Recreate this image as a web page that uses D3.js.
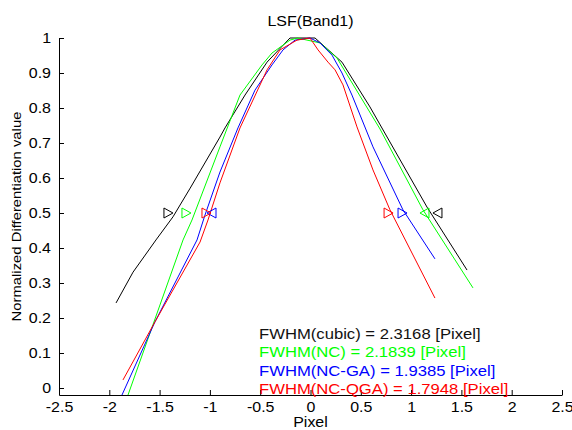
<!DOCTYPE html>
<html>
<head>
<meta charset="utf-8">
<script src="https://cdn.jsdelivr.net/npm/d3@7"></script>
<style>
  html, body { margin: 0; padding: 0; background: #fff; }
  svg { display: block; }
  text { font-family: "Liberation Sans", Arial, Helvetica, sans-serif; }
</style>
</head>
<body>
<div id="chart"></div>
<script>
// Line spread function profiles for Band 1, one per interpolation method
const cubicX = [-1.933, -1.764, -1.536, -1.367, -1.196, -0.900, -0.850, -0.651, -0.432, -0.204, 0.045, 0.313, 0.591, 1.158, 1.556];
const cubicY = [0.243, 0.331, 0.423, 0.489, 0.571, 0.717, 0.743, 0.837, 0.931, 1.000, 1.000, 0.931, 0.803, 0.517, 0.337];

const ncX = [-1.814, -1.267, -1.178, -0.900, -0.701, -0.482, -0.383, -0.204, -0.130, 0.094, 0.263, 0.691, 1.118, 1.615];
const ncY = [-0.020, 0.423, 0.480, 0.689, 0.837, 0.923, 0.957, 0.994, 1.000, 0.986, 0.943, 0.740, 0.509, 0.286];

const gaX = [-1.874, -1.546, -1.128, -1.049, -0.900, -0.721, -0.552, -0.383, -0.273, -0.154, -0.005, 0.094, 0.214, 0.313, 0.412, 0.621, 0.919, 1.237];
const gaY = [-0.020, 0.189, 0.423, 0.494, 0.617, 0.743, 0.851, 0.923, 0.966, 0.994, 1.000, 0.986, 0.951, 0.900, 0.837, 0.689, 0.509, 0.369];

const qgaX = [-1.864, -1.546, -1.098, -1.019, -0.900, -0.701, -0.432, -0.303, -0.134, -0.005, 0.075, 0.174, 0.244, 0.323, 0.462, 0.621, 0.790, 1.237];
const qgaY = [0.023, 0.189, 0.417, 0.480, 0.586, 0.743, 0.909, 0.966, 0.994, 1.000, 0.966, 0.931, 0.909, 0.866, 0.746, 0.623, 0.509, 0.257];

// Half-maximum indicators: position and pointing direction
const markerX = [-1.417, 1.267, -1.238, 1.138, -0.979, 0.910, -1.039, 0.771];
const markerY = [0.5, 0.5, 0.5, 0.5, 0.5, 0.5, 0.5, 0.5];
const markerDir = ["right", "left", "right", "left", "left", "right", "right", "right"];
const markerSeries = [0, 0, 1, 1, 2, 2, 3, 3];

const seriesNames = ["cubic", "NC", "NC-GA", "NC-QGA"];
const seriesColors = ["#000000", "#00ff00", "#0000ff", "#ff0000"];
const fwhmValues = ["2.3168", "2.1839", "1.9385", "1.7948"];

const xTicks = [-2.5, -2, -1.5, -1, -0.5, 0, 0.5, 1, 1.5, 2, 2.5];
const yTicks = [0, 0.1, 0.2, 0.3, 0.4, 0.5, 0.6, 0.7, 0.8, 0.9, 1];

const W = 572, H = 430;
const margin = { left: 59, right: 10, top: 38, bottom: 35 };

const svg = d3.select("#chart").append("svg").attr("width", W).attr("height", H);

const x = d3.scaleLinear().domain([-2.5, 2.5]).range([margin.left, W - margin.right]);
const y = d3.scaleLinear().domain([-0.02, 1]).range([H - margin.bottom, margin.top]);

// Text is set a little wider than the font's natural advance
function widen(stretch) {
  return sel => sel.each(function () {
    const w = this.getComputedTextLength();
    d3.select(this).attr("textLength", w * stretch).attr("lengthAdjust", "spacingAndGlyphs");
  });
}

svg.append("defs").append("clipPath").attr("id", "plotClip")
  .append("rect")
  .attr("x", x(-2.5)).attr("y", y(1) - 2)
  .attr("width", x(2.5) - x(-2.5)).attr("height", y(-0.02) - y(1) + 2);

// Axes: ticks point inward
const xAxis = d3.axisBottom(x).tickValues(xTicks).tickFormat(d => String(d))
  .tickSizeInner(-5).tickSizeOuter(0).tickPadding(7);
const yAxis = d3.axisLeft(y).tickValues(yTicks).tickFormat(d => String(d))
  .tickSizeInner(-5).tickSizeOuter(0).tickPadding(8);

const gx = svg.append("g").attr("transform", `translate(0,${y(-0.02)})`).call(xAxis);
const gy = svg.append("g").attr("transform", `translate(${x(-2.5)},0)`).call(yAxis);
[gx, gy].forEach(g => {
  g.selectAll("path").attr("stroke", "#000").attr("stroke-width", 1);
  g.selectAll("line").attr("stroke", "#000");
  g.selectAll("text").attr("fill", "#000").style("font-size", "14px").call(widen(1.14));
});

// Curves
const line = d3.line().x(d => x(d[0])).y(d => y(d[1]));
const series = [
  d3.zip(cubicX, cubicY),
  d3.zip(ncX, ncY),
  d3.zip(gaX, gaY),
  d3.zip(qgaX, qgaY)
];
const plot = svg.append("g").attr("clip-path", "url(#plotClip)");
series.forEach((pts, i) => {
  plot.append("path")
    .datum(pts)
    .attr("fill", "none")
    .attr("stroke", seriesColors[i])
    .attr("stroke-width", 1)
    .attr("d", line);
});

// Triangle markers at the half-maximum level
const tri = (dir) => dir === "right"
  ? "M-4,-5 L5,0 L-4,5 Z"
  : "M4,-5 L-5,0 L4,5 Z";
markerX.forEach((mx, i) => {
  svg.append("path")
    .attr("transform", `translate(${x(mx)},${y(markerY[i])})`)
    .attr("d", tri(markerDir[i]))
    .attr("fill", "none")
    .attr("stroke", seriesColors[markerSeries[i]])
    .attr("stroke-width", 1);
});

// FWHM annotations
seriesNames.forEach((name, i) => {
  svg.append("text")
    .attr("x", 259)
    .attr("y", 339 + i * 18.3)
    .attr("fill", seriesColors[i] === "#000000" ? "#111" : seriesColors[i])
    .style("font-size", "15px")
    .text(`FWHM(${name}) = ${fwhmValues[i]} [Pixel]`)
    .call(widen(1.11));
});

// Title and axis labels
svg.append("text").attr("x", x(0)).attr("y", 26).attr("text-anchor", "middle")
  .style("font-size", "14px").attr("fill", "#000").text("LSF(Band1)").call(widen(1.14));
svg.append("text").attr("x", x(0)).attr("y", 427).attr("text-anchor", "middle")
  .style("font-size", "14px").attr("fill", "#000").text("Pixel").call(widen(1.14));
svg.append("text")
  .attr("transform", `translate(21,${(y(1) + y(-0.02)) / 2}) rotate(-90)`)
  .attr("text-anchor", "middle")
  .style("font-size", "13px").attr("fill", "#000")
  .text("Normalized Differentiation value").call(widen(1.14));
</script>
</body>
</html>
